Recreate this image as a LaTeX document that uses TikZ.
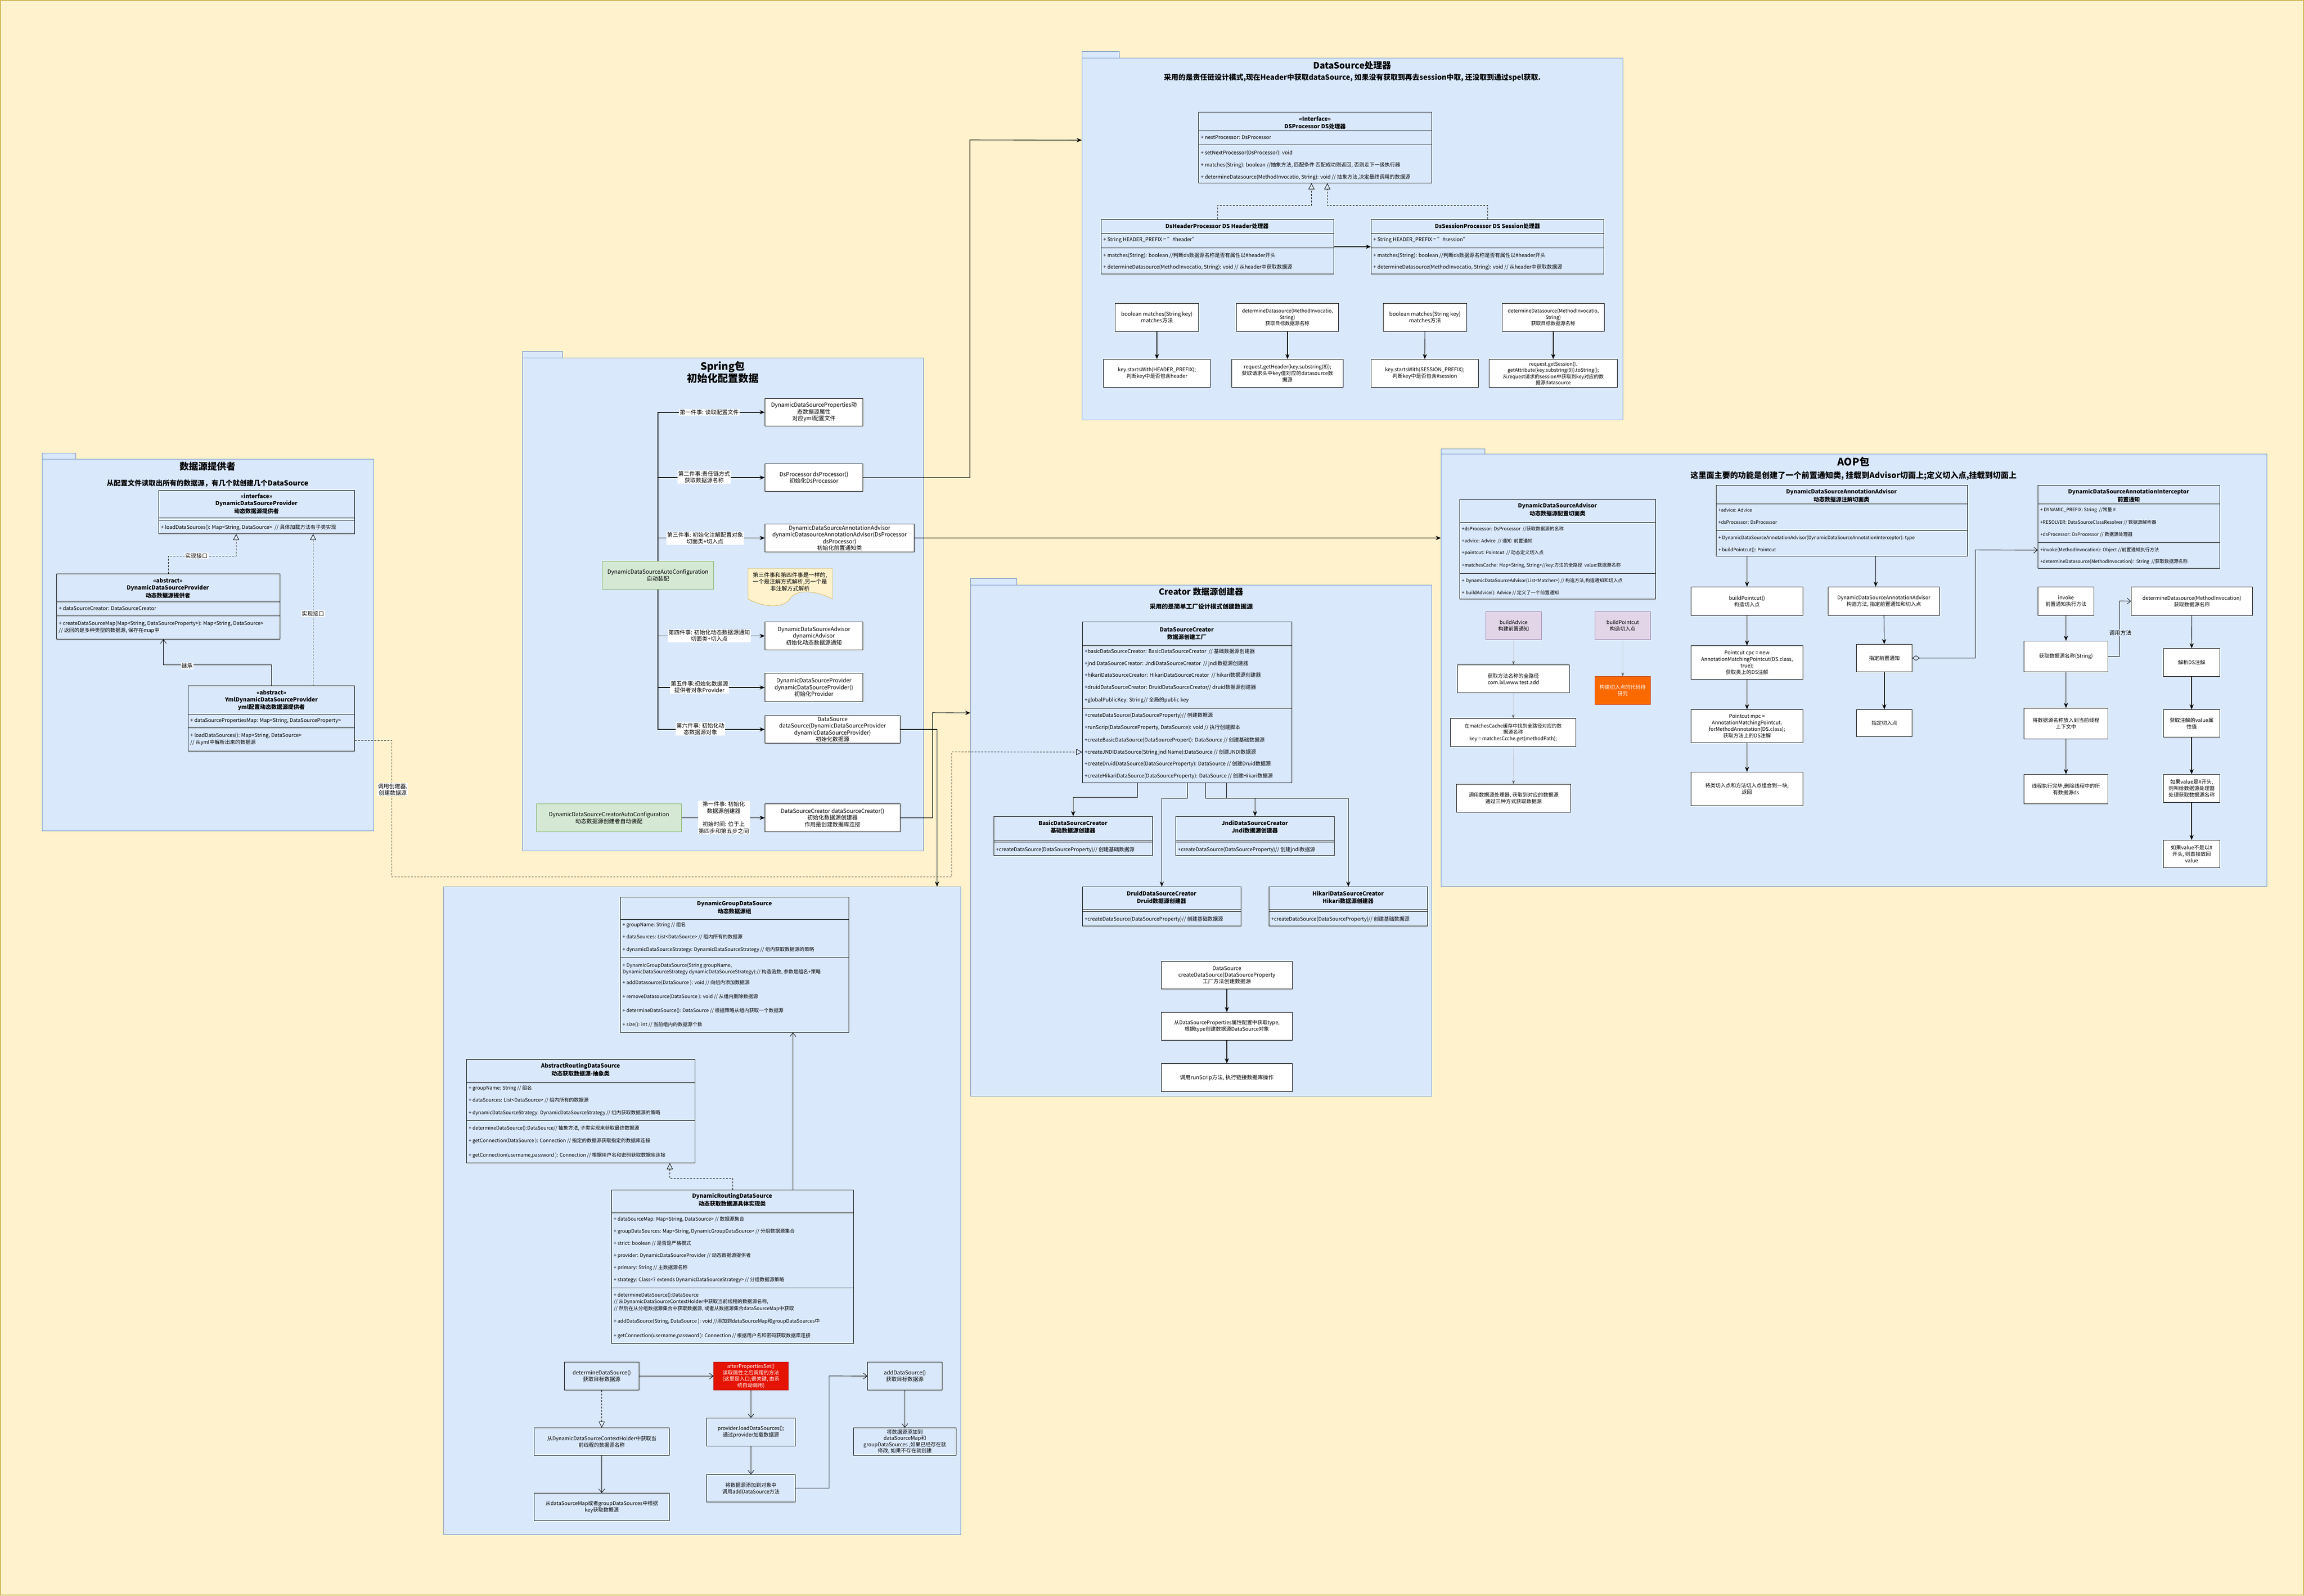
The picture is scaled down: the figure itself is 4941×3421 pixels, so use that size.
\documentclass[tikz,border=0pt]{standalone}
\usepackage{fontspec}
\setmainfont{Noto Sans CJK SC}
\usetikzlibrary{arrows.meta}
\definecolor{bgy}{HTML}{FFF2CC}
\definecolor{bgyl}{HTML}{D6B656}
\definecolor{pkf}{HTML}{DAE8FC}
\definecolor{pkl}{HTML}{6C8EBF}
\definecolor{grf}{HTML}{D5E8D4}
\definecolor{grl}{HTML}{82B366}
\definecolor{puf}{HTML}{E1D5E7}
\definecolor{pul}{HTML}{9673A6}
\definecolor{orf}{HTML}{FA6800}
\definecolor{orl}{HTML}{C73500}
\definecolor{rdf}{HTML}{E51400}
\definecolor{rdl}{HTML}{B20000}
\newcounter{tn}
\newcommand\fs[2]{\fontsize{#1}{#2}\selectfont}
\newcommand\bx[7]{\node[#2,anchor=north west,minimum width={#5-#3},minimum height={#6-#4},inner sep=1pt] (#1) at (#3,#4) {#7};}
\newcommand\txt[4][]{\stepcounter{tn}\node[attr,#1] (t\arabic{tn}) at (#2,#3) {#4};}
\newcommand\ttl[4][]{\stepcounter{tn}\node[ctitle,#1] (t\arabic{tn}) at (#2,#3) {#4};}
\newcommand\dvd[3]{\draw[cls] (#1,#3) -- (#2,#3);}
\tikzset{
 pkg/.style={draw=pkl,fill=pkf,line width=1pt},
 cls/.style={draw=black,line width=0.9pt},
 wbox/.style={draw=black,fill=white,line width=0.9pt,align=center,font=\fs{11.5}{14}},
 tbox/.style={draw=black,line width=0.9pt,align=center,font=\fs{11.5}{14}},
 gbox/.style={draw=grl,fill=grf,line width=0.9pt,align=center,font=\fs{12}{14.5}},
 pbox/.style={draw=pul,fill=puf,line width=0.9pt,align=center,font=\fs{11}{13.5}},
 obox/.style={draw=orl,fill=orf,text=white,line width=0.9pt,align=center,font=\fs{11}{13.5}},
 rbox/.style={draw=rdl,fill=rdf,text=white,line width=0.9pt,align=center,font=\fs{11}{13.5}},
 attr/.style={font=\fs{11}{13},inner sep=0pt,anchor=west},
 ctitle/.style={font=\bfseries\fs{12}{14},inner sep=0pt},
 lbl/.style={fill=white,inner sep=1.5pt,align=center,font=\fs{12}{14.5}},
 arr/.style={line width=1.1pt,-{Stealth[length=11pt,width=9pt]}},
 oarr/.style={line width=0.9pt,-{Straight Barb[length=8pt,width=13pt]}},
 impl/.style={line width=0.9pt,dash pattern=on 4pt off 3pt,-{Triangle[open,length=13pt,width=13pt]}},
 garr/.style={draw=gray!45,line width=0.8pt,-{Stealth[length=8pt,width=6pt,color=gray!70!black]}},
 agg/.style={line width=0.9pt,{Diamond[open,length=16pt,width=11pt]}-{Straight Barb[length=8pt,width=13pt]}},
}
\begin{document}
\begin{tikzpicture}[x=1pt,y=-1pt]
\useasboundingbox (0,0) rectangle (4941,3421);
\fill[bgy] (0,0) rectangle (4941,3421);
\draw[bgyl,line width=1.5pt] (1,1) rectangle (4940,3420);

%% ================= DataSource processor package
\bx{pdsT}{pkg}{2320}{110}{2400}{124}{}
\bx{pds}{pkg}{2320}{124}{3480}{900}{}
\node[font=\bfseries\fs{19}{22}] (pdsTi) at (2900,140) {DataSource处理器};
\node[font=\bfseries\fs{15.5}{18}] (pdsSu) at (2900,167) {采用的是责任链设计模式,现在Header中获取dataSource, 如果没有获取到再去session中取, 还没取到通过spel获取.};

\bx{dsp}{tbox}{2570}{240}{3070}{392}{}
\ttl{2820}{255}{<<Interface>>}
\ttl{2820}{271}{DSProcessor DS处理器}
\dvd{2570}{3070}{280}\dvd{2570}{3070}{310}
\txt{2575}{295}{+ nextProcessor: DsProcessor}
\txt{2575}{328}{+ setNextProcessor(DsProcessor): void}
\txt{2575}{354}{+ matches(String): boolean //抽象方法, 匹配条件 匹配成功则返回, 否则走下一级执行器}
\txt{2575}{380}{+ determineDatasource(MethodInvocatio, String): void // 抽象方法,决定最终调用的数据源}

\bx{dsh}{tbox}{2361}{470}{2860}{587}{}
\ttl{2610}{485}{DsHeaderProcessor DS Header处理器}
\dvd{2361}{2860}{500}\dvd{2361}{2860}{531}
\txt{2366}{514}{+ String HEADER\_PREFIX = "\#header"}
\txt{2366}{548}{+ matches(String): boolean //判断ds数据源名称是否有属性以\#header开头}
\txt{2366}{573}{+ determineDatasource(MethodInvocatio, String): void // 从header中获取数据源}

\bx{dss}{tbox}{2940}{470}{3439}{587}{}
\ttl{3190}{485}{DsSessionProcessor DS Session处理器}
\dvd{2940}{3439}{500}\dvd{2940}{3439}{531}
\txt{2945}{514}{+ String HEADER\_PREFIX = "\#session"}
\txt{2945}{548}{+ matches(String): boolean //判断ds数据源名称是否有属性以\#header开头}
\txt{2945}{573}{+ determineDatasource(MethodInvocatio, String): void // 从header中获取数据源}

\draw[impl] (dsh.north) -- ++(0,-30) -| ([xshift=-8pt]dsp.south);
\draw[impl] (dss.north) -- ++(0,-30) -| ([xshift=26pt]dsp.south);
\draw[arr] (dsh.east) -- (dss.west);

\bx{fA}{wbox}{2391}{650}{2570}{710}{boolean matches(String key)\\matches方法}
\bx{fB}{wbox,font=\fs{10.5}{13.5}}{2651}{650}{2870}{710}{determineDatasource(MethodInvocatio,\\String)\\获取目标数据源名称}
\bx{fC}{wbox}{2966}{650}{3145}{710}{boolean matches(String key)\\matches方法}
\bx{fD}{wbox,font=\fs{10.5}{13.5}}{3221}{650}{3440}{710}{determineDatasource(MethodInvocatio,\\String)\\获取目标数据源名称}
\bx{gA}{wbox,font=\fs{11}{14}}{2366}{770}{2595}{830}{key.startsWith(HEADER\_PREFIX);\\判断key中是否包含header}
\bx{gB}{wbox,font=\fs{11}{14}}{2641}{770}{2880}{830}{request.getHeader(key.substring(8));\\获取请求头中key值对应的datasource数\\据源}
\bx{gC}{wbox,font=\fs{11}{14}}{2940}{770}{3170}{830}{key.startsWith(SESSION\_PREFIX);\\判断key中是否包含\#session}
\bx{gD}{wbox,font=\fs{10.5}{13.5}}{3193}{770}{3468}{830}{request.getSession().\\getAttribute(key.substring(9)).toString();\\从request请求的session中获取到key对应的数\\据源datasource}
\draw[arr] (fA) -- (gA);
\draw[arr] (fB) -- (gB);
\draw[arr] (fC) -- (gC);
\draw[arr] (fD) -- (gD);

%% ================= Provider package
\bx{ppvT}{pkg}{90}{971}{162}{984}{}
\bx{ppv}{pkg}{90}{984}{801}{1781}{}
\node[font=\bfseries\fs{20}{24}] (ppvTi) at (445,1000) {数据源提供者};
\node[font=\bfseries\fs{15}{18}] (ppvSu) at (445,1036) {从配置文件读取出所有的数据源，有几个就创建几个DataSource};

\bx{pif}{tbox}{340}{1051}{760}{1144}{}
\ttl{550}{1064}{<<interface>>}
\ttl{550}{1080}{DynamicDataSourceProvider}
\ttl{550}{1096}{动态数据源提供者}
\dvd{340}{760}{1110}\dvd{340}{760}{1115}
\txt{345}{1131}{+ loadDataSources(): Map<String, DataSource>~ // 具体加载方法有子类实现}

\bx{pab}{tbox}{121}{1230}{600}{1370}{}
\ttl{360}{1245}{<<abstract>>}
\ttl{360}{1261}{DynamicDataSourceProvider}
\ttl{360}{1277}{动态数据源提供者}
\dvd{121}{600}{1290}\dvd{121}{600}{1320}
\txt{126}{1304}{+ dataSourceCreator: DataSourceCreator}
\txt{126}{1337}{+ createDataSourceMap(Map<String, DataSourceProperty>): Map<String, DataSource>}
\txt{126}{1352}{// 返回的是多种类型的数据源, 保存在map中}

\bx{pym}{tbox}{403}{1470}{760}{1610}{}
\ttl{582}{1485}{<<abstract>>}
\ttl{582}{1501}{YmlDynamicDataSourceProvider}
\ttl{582}{1517}{yml配置动态数据源提供者}
\dvd{403}{760}{1531}\dvd{403}{760}{1560}
\txt{408}{1545}{+ dataSourcePropertiesMap: Map<String, DataSourceProperty>}
\txt{408}{1577}{+ loadDataSources(): Map<String, DataSource>}
\txt{408}{1592}{// 从yml中解析出来的数据源}

\draw[impl] (pab.north) -- ++(0,-38) -| ([xshift=-44pt]pif.south);
\node[lbl] (lpi1) at (421,1192) {实现接口};
\draw[impl] ([xshift=89.5pt]pym.north) -- ([xshift=121pt]pif.south);
\node[lbl] (lpi2) at (671,1316) {实现接口};
\draw[oarr] (pym.north) -- ++(0,-45) -| ([xshift=-10.5pt]pab.south);
\node[lbl] (lpi3) at (401,1428) {继承};

%% ================= Spring package
\bx{pspT}{pkg}{1120}{753}{1206}{767}{}
\bx{psp}{pkg}{1120}{767}{1980}{1824}{}
\node[font=\bfseries\fs{22}{26},align=center] (pspTi) at (1550,798) {Spring包\\初始化配置数据};

\bx{sac}{gbox}{1291}{1203}{1530}{1263}{DynamicDataSourceAutoConfiguration\\自动装配}
\bx{s1}{wbox,font=\fs{12}{14.5}}{1640}{854}{1850}{913}{DynamicDataSourceProperties动\\态数据源属性\\对应yml配置文件}
\bx{s2}{wbox,font=\fs{12}{14.5}}{1640}{994}{1850}{1053}{DsProcessor dsProcessor()\\初始化DsProcessor}
\bx{s3}{wbox,font=\fs{12}{14.5}}{1640}{1123}{1960}{1183}{DynamicDataSourceAnnotationAdvisor\\dynamicDatasourceAnnotationAdvisor(DsProcessor\\dsProcessor)\\初始化前置通知类}
\bx{s4}{wbox,font=\fs{12}{14.5}}{1640}{1333}{1850}{1393}{DynamicDataSourceAdvisor\\dynamicAdvisor\\初始化动态数据源通知}
\bx{s5}{wbox,font=\fs{12}{14.5}}{1640}{1443}{1850}{1504}{DynamicDataSourceProvider\\dynamicDataSourceProvider()\\初始化Provider}
\bx{s6}{wbox,font=\fs{12}{14.5}}{1640}{1534}{1930}{1593}{DataSource\\dataSource(DynamicDataSourceProvider\\dynamicDataSourceProvider)\\初始化数据源}
\bx{gca}{gbox}{1150}{1723}{1461}{1783}{DynamicDataSourceCreatorAutoConfiguration\\动态数据源创建者自动装配}
\bx{s7}{wbox,font=\fs{12}{14.5}}{1640}{1723}{1930}{1783}{DataSourceCreator dataSourceCreator()\\初始化数据源创建器\\作用是创建数据库连接}

\draw[fill=bgy,draw=bgyl,line width=0.9pt] (1604,1219) -- (1785,1219) -- (1785,1284) .. controls (1745,1264) and (1705,1264) .. (1694,1284) .. controls (1680,1304) and (1640,1304) .. (1604,1284) -- cycle;
\node[font=\fs{12}{14.5},align=center] (note) at (1694,1247) {第三件事和第四件事是一样的,\\一个是注解方式解析,另一个是\\非注解方式解析};

\draw[arr] (sac.north) |- (s1.west);
\draw[arr] (sac.north) |- (s2.west);
\draw[arr] (sac.north) |- (s3.west);
\draw[arr] (sac.south) |- (s4.west);
\draw[arr] (sac.south) |- (s5.west);
\draw[arr] (sac.south) |- (s6.west);
\draw[arr] (gca.east) -- (s7.west);
\node[lbl] (l1) at (1521,884) {第一件事: 读取配置文件};
\node[lbl] (l2) at (1510,1023) {第二件事:责任链方式\\获取数据源名称};
\node[lbl] (l3) at (1512,1154) {第三件事: 初始化注解配置对象\\切面类+切入点};
\node[lbl] (l4) at (1521,1363) {第四件事: 初始化动态数据源通知\\切面类+切入点};
\node[lbl] (l5) at (1500,1473) {第五件事:初始化数据源\\提供者对象Provider};
\node[lbl] (l6) at (1502,1563) {第六件事: 初始化动\\态数据源对象};
\node[lbl] (l7) at (1552,1753) {第一件事: 初始化\\数据源创建器\\[14pt]初始时间: 位于上\\第四步和第五步之间};

%% ================= Creator package
\bx{creT}{pkg}{2081}{1240}{2180}{1254}{}
\bx{cre}{pkg}{2081}{1254}{3070}{2350}{}
\node[font=\bfseries\fs{18}{22}] (creTi) at (2576,1269) {Creator 数据源创建器};
\node[font=\bfseries\fs{13}{16}] (creSu) at (2576,1301) {采用的是简单工厂设计模式创建数据源};

\bx{dsc}{tbox}{2321}{1333}{2770}{1678}{}
\ttl{2545}{1350}{DataSourceCreator}
\ttl{2545}{1366}{数据源创建工厂}
\dvd{2321}{2770}{1384}\dvd{2321}{2770}{1518}
\txt{2326}{1397}{+basicDataSourceCreator: BasicDataSourceCreator~ // 基础数据源创建器}
\txt{2326}{1423}{+jndiDataSourceCreator: JndiDataSourceCreator~ // jndi数据源创建器}
\txt{2326}{1448}{+hikariDataSourceCreator: HikariDataSourceCreator~ // hikari数据源创建器}
\txt{2326}{1474}{+druidDataSourceCreator: DruidDataSourceCreator// druid数据源创建器}
\txt{2326}{1501}{+globalPublicKey: String// 全局的public key}
\txt{2326}{1534}{+createDataSource(DataSourceProperty)// 创建数据源}
\txt{2326}{1560}{+runScrip(DataSourceProperty, DataSource): void // 执行创建脚本}
\txt{2326}{1587}{+createBasicDataSource(DataSourcePropert): DataSource // 创建基础数据源}
\txt{2326}{1613}{+createJNDIDataSource(String jndiName):DataSource // 创建JNDI数据源}
\txt{2326}{1638}{+createDruidDataSource(DataSourceProperty): DataSource // 创建Druid数据源}
\txt{2326}{1664}{+createHikariDataSource(DataSourceProperty): DataSource // 创建Hikari数据源}

\bx{cb}{tbox}{2131}{1750}{2471}{1834}{}
\ttl{2301}{1765}{BasicDataSourceCreator}
\ttl{2301}{1781}{基础数据源创建器}
\dvd{2131}{2471}{1801}\dvd{2131}{2471}{1805}
\txt{2136}{1822}{+createDataSource(DataSourceProperty)// 创建基础数据源}

\bx{cj}{tbox}{2521}{1750}{2861}{1834}{}
\ttl{2691}{1765}{JndiDataSourceCreator}
\ttl{2691}{1781}{Jndi数据源创建器}
\dvd{2521}{2861}{1801}\dvd{2521}{2861}{1805}
\txt{2526}{1822}{+createDataSource(DataSourceProperty)// 创建jndi数据源}

\bx{cd}{tbox}{2321}{1901}{2661}{1985}{}
\ttl{2491}{1916}{DruidDataSourceCreator}
\ttl{2491}{1932}{Druid数据源创建器}
\dvd{2321}{2661}{1950}\dvd{2321}{2661}{1954}
\txt{2326}{1971}{+createDataSource(DataSourceProperty)// 创建基础数据源}

\bx{ch}{tbox}{2721}{1901}{3061}{1985}{}
\ttl{2891}{1916}{HikariDataSourceCreator}
\ttl{2891}{1932}{Hikari数据源创建器}
\dvd{2721}{3061}{1950}\dvd{2721}{3061}{1954}
\txt{2726}{1971}{+createDataSource(DataSourceProperty)// 创建基础数据源}

\draw[arr] ([xshift=-106.5pt]dsc.south) -- ++(0,31) -| (cb.north);
\draw[arr] ([xshift=0.5pt]dsc.south) -- ++(0,33) -| (cd.north);
\draw[arr] ([xshift=39.5pt]dsc.south) -- ++(0,33) -| (ch.north);
\draw[arr] ([xshift=84.5pt]dsc.south) -- ++(0,33) -| (cj.north);

\bx{cf1}{wbox,font=\fs{11.5}{14}}{2490}{2061}{2771}{2120}{DataSource\\createDataSource(DataSourceProperty\\工厂方法创建数据源}
\bx{cf2}{wbox,font=\fs{11}{14}}{2490}{2170}{2771}{2230}{从DataSourceProperties属性配置中获取type,\\根据type创建数据源DataSource对象}
\bx{cf3}{wbox,font=\fs{11.5}{14}}{2490}{2280}{2771}{2340}{调用runScrip方法, 执行链接数据库操作}
\draw[arr] (cf1) -- (cf2);
\draw[arr] (cf2) -- (cf3);

%% ================= AOP package
\bx{aopT}{pkg}{3090}{962}{3184}{973}{}
\bx{aop}{pkg}{3090}{973}{4861}{1900}{}
\node[font=\bfseries\fs{22}{26}] (aopTi) at (3975,990) {AOP包};
\node[font=\bfseries\fs{17}{20}] (aopSu) at (3975,1020) {这里面主要的功能是创建了一个前置通知类, 挂载到Advisor切面上;定义切入点,挂载到切面上};

\bx{aadv}{tbox}{3130}{1070}{3550}{1284}{}
\ttl{3340}{1085}{DynamicDataSourceAdvisor}
\ttl{3340}{1101}{动态数据源配置切面类}
\dvd{3130}{3550}{1120}\dvd{3130}{3550}{1229}
\txt[font=\fs{10}{12}]{3135}{1134}{+dsProcessor: DsProcessor~ //获取数据源的名称}
\txt[font=\fs{10}{12}]{3135}{1160}{+advice: Advice~ // 通知~ 前置通知}
\txt[font=\fs{10}{12}]{3135}{1185}{+pointcut: Pointcut~ // 动态定义切入点}
\txt[font=\fs{10}{12}]{3135}{1212}{+matchesCache: Map<String, String>//key:方法的全路径~ value:数据源名称}
\txt[font=\fs{10}{12}]{3135}{1245}{+ DynamicDataSourceAdvisor(List<Matcher>) // 构造方法,构造通知和切入点}
\txt[font=\fs{10}{12}]{3135}{1271}{+ buildAdvice(): Advice // 定义了一个前置通知}

\bx{aann}{tbox}{3680}{1040}{4219}{1192}{}
\ttl{3949}{1055}{DynamicDataSourceAnnotationAdvisor}
\ttl{3949}{1071}{动态数据源注解切面类}
\dvd{3680}{4219}{1080}\dvd{3680}{4219}{1137}
\txt[font=\fs{10}{12}]{3685}{1094}{+advice: Advice}
\txt[font=\fs{10}{12}]{3685}{1120}{+dsProcessor: DsProcessor}
\txt[font=\fs{10}{12}]{3685}{1154}{+ DynamicDataSourceAnnotationAdvisor(DynamicDataSourceAnnotationInterceptor): type}
\txt[font=\fs{10}{12}]{3685}{1179}{+ buildPointcut(): Pointcut}

\bx{aint}{tbox}{4370}{1040}{4760}{1218}{}
\ttl{4565}{1055}{DynamicDataSourceAnnotationInterceptor}
\ttl{4565}{1071}{前置通知}
\dvd{4370}{4760}{1080}\dvd{4370}{4760}{1163}
\txt[font=\fs{10}{12}]{4375}{1094}{+ DYNAMIC\_PREFIX: String~ //常量 \#}
\txt[font=\fs{10}{12}]{4375}{1120}{+RESOLVER: DataSourceClassResolver // 数据源解析器}
\txt[font=\fs{10}{12}]{4375}{1146}{+dsProcessor: DsProcessor // 数据源处理器}
\txt[font=\fs{10}{12}]{4375}{1179}{+invoke(MethodInvocation): Object //前置通知执行方法}
\txt[font=\fs{10}{12}]{4375}{1205}{+determineDatasource(MethodInvocation):~ String~ //获取数据源名称}

\bx{pa}{pbox}{3186}{1311}{3305}{1371}{buildAdvice\\构建前置通知}
\bx{pp}{pbox}{3420}{1311}{3539}{1371}{buildPointcut\\构造切入点}
\bx{la1}{wbox,font=\fs{11}{14}}{3125}{1425}{3365}{1485}{获取方法名称的全路径\\com.lxl.www.test.add}
\bx{po}{obox}{3420}{1450}{3539}{1510}{构建切入点的代码待\\研究}
\bx{la2}{wbox,font=\fs{10.5}{13.5}}{3110}{1540}{3379}{1600}{在matchesCache缓存中找到全路径对应的数\\据源名称\\key = matchesCcche.get(methodPath);}
\bx{la3}{wbox,font=\fs{11}{14}}{3123}{1681}{3368}{1741}{调用数据源处理器, 获取到对应的数据源\\通过三种方式获取数据源}
\draw[garr] (pa) -- (la1);
\draw[garr] (la1) -- (la2);
\draw[garr] (la2) -- (la3);
\draw[garr] (pp) -- (po);

\bx{m1}{wbox,font=\fs{11}{14}}{3626}{1258}{3866}{1319}{buildPointcut()\\构造切入点}
\bx{m2}{wbox,font=\fs{11}{14}}{3626}{1384}{3866}{1456}{Pointcut cpc = new\\AnnotationMatchingPointcut(DS.class,\\true);\\获取类上的DS注解}
\bx{m3}{wbox,font=\fs{11}{14}}{3626}{1521}{3866}{1592}{Pointcut mpc =\\AnnotationMatchingPointcut.\\forMethodAnnotation(DS.class);\\获取方法上的DS注解}
\bx{m4}{wbox,font=\fs{11}{14}}{3626}{1655}{3866}{1727}{将类切入点和方法切入点组合到一块,\\返回}
\draw[arr] ([xshift=-203.5pt]aann.south) -- (m1.north);
\draw[arr] (m1) -- (m2);
\draw[arr] (m2) -- (m3);
\draw[arr] (m3) -- (m4);

\bx{n1}{wbox,font=\fs{11}{14}}{3920}{1258}{4159}{1319}{DynamicDataSourceAnnotationAdvisor\\构造方法, 指定前置通知和切入点}
\bx{n2}{wbox,font=\fs{11}{14}}{3981}{1381}{4100}{1440}{指定前置通知}
\bx{n3}{wbox,font=\fs{11}{14}}{3981}{1521}{4100}{1579}{指定切入点}
\draw[arr] ([xshift=72.5pt]aann.south) -- ([xshift=-17.5pt]n1.north);
\draw[arr] (n1) -- (n2);
\draw[arr] (n2) -- (n3);
\draw[agg] (n2.east) -| (4236,1179) -- ([yshift=-50pt]aint.west);

\bx{r1}{wbox,font=\fs{11}{14}}{4370}{1258}{4490}{1319}{invoke\\前置通知执行方法}
\bx{r2}{wbox,font=\fs{11}{14}}{4340}{1374}{4520}{1440}{获取数据源名称(String)}
\bx{r3}{wbox,font=\fs{11}{14}}{4340}{1518}{4520}{1584}{将数据源名称放入到当前线程\\上下文中}
\bx{r4}{wbox,font=\fs{11}{14}}{4340}{1660}{4520}{1723}{线程执行完毕,删除线程中的所\\有数据源ds}
\draw[arr] (r1) -- (r2);
\draw[arr] (r2) -- (r3);
\draw[arr] (r3) -- (r4);
\bx{q1}{wbox,font=\fs{11}{14}}{4570}{1258}{4830}{1319}{determineDatasource(MethodInvocation)\\获取数据源名称}
\bx{q2}{wbox,font=\fs{11}{14}}{4639}{1390}{4760}{1450}{解析DS注解}
\bx{q3}{wbox,font=\fs{11}{14}}{4639}{1521}{4760}{1580}{获取注解的value属\\性值}
\bx{q4}{wbox,font=\fs{11}{14}}{4639}{1660}{4760}{1720}{如果value是\#开头,\\则叫给数据源处理器\\处理获取数据源名称}
\bx{q5}{wbox,font=\fs{11}{14}}{4639}{1801}{4760}{1860}{如果value不是以\#\\开头, 则直接放回\\value}
\draw[arr] (q1) -- (q2);
\draw[arr] (q2) -- (q3);
\draw[arr] (q3) -- (q4);
\draw[arr] (q4) -- (q5);
\draw[oarr] (r2.east) -| (4545,1288.5) -- (q1.west);
\node[lbl,fill=pkf] (lcall) at (4547,1357) {调用方法};

%% ================= Bottom package (routing)
\bx{bot}{pkg}{951}{1901}{2060}{3290}{}

\bx{grp}{tbox}{1330}{1923}{1820}{2213}{}
\ttl{1575}{1938}{DynamicGroupDataSource}
\ttl{1575}{1954}{动态数据源组}
\dvd{1330}{1820}{1971}\dvd{1330}{1820}{2052}
\txt[font=\fs{10.5}{12}]{1335}{1983}{+ groupName: String // 组名}
\txt[font=\fs{10.5}{12}]{1335}{2009}{+ dataSources: List<DataSource> // 组内所有的数据源}
\txt[font=\fs{10.5}{12}]{1335}{2036}{+ dynamicDataSourceStrategy: DynamicDataSourceStrategy // 组内获取数据源的策略}
\txt[font=\fs{10.5}{12}]{1335}{2070}{+ DynamicGroupDataSource(String groupName,}
\txt[font=\fs{10.5}{12}]{1335}{2084}{DynamicDataSourceStrategy dynamicDataSourceStrategy):// 构造函数, 参数是组名+策略}
\txt[font=\fs{10.5}{12}]{1335}{2107}{+ addDatasource(DataSource ): void // 向组内添加数据源}
\txt[font=\fs{10.5}{12}]{1335}{2137}{+ removeDatasource(DataSource ): void // 从组内删除数据源}
\txt[font=\fs{10.5}{12}]{1335}{2167}{+ determineDataSource(): DataSource // 根据策略从组内获取一个数据源}
\txt[font=\fs{10.5}{12}]{1335}{2197}{+ size(): int // 当前组内的数据源个数}

\bx{ars}{tbox}{1000}{2271}{1490}{2493}{}
\ttl{1245}{2286}{AbstractRoutingDataSource}
\ttl{1245}{2302}{动态获取数据源-抽象类}
\dvd{1000}{1490}{2321}\dvd{1000}{1490}{2402}
\txt[font=\fs{10.5}{12}]{1005}{2333}{+ groupName: String // 组名}
\txt[font=\fs{10.5}{12}]{1005}{2359}{+ dataSources: List<DataSource> // 组内所有的数据源}
\txt[font=\fs{10.5}{12}]{1005}{2386}{+ dynamicDataSourceStrategy: DynamicDataSourceStrategy // 组内获取数据源的策略}
\txt[font=\fs{10.5}{12}]{1005}{2419}{+ determineDataSource():DataSource// 抽象方法, 子类实现来获取最终数据源}
\txt[font=\fs{10.5}{12}]{1005}{2446}{+ getConnection(DataSource ): Connection // 指定的数据源获取指定的数据库连接}
\txt[font=\fs{10.5}{12}]{1005}{2477}{+ getConnection(username,password ): Connection // 根据用户名和密码获取数据库连接}

\bx{drs}{tbox}{1311}{2551}{1830}{2880}{}
\ttl{1570}{2565}{DynamicRoutingDataSource}
\ttl{1570}{2581}{动态获取数据源具体实现类}
\dvd{1311}{1830}{2600}\dvd{1311}{1830}{2761}
\txt[font=\fs{10.5}{12}]{1316}{2614}{+ dataSourceMap: Map<String, DataSource> // 数据源集合}
\txt[font=\fs{10.5}{12}]{1316}{2640}{+ groupDataSources: Map<String, DynamicGroupDataSource> // 分组数据源集合}
\txt[font=\fs{10.5}{12}]{1316}{2666}{+ strict: boolean // 是否是严格模式}
\txt[font=\fs{10.5}{12}]{1316}{2692}{+ provider: DynamicDataSourceProvider // 动态数据源提供者}
\txt[font=\fs{10.5}{12}]{1316}{2718}{+ primary: String // 主数据源名称}
\txt[font=\fs{10.5}{12}]{1316}{2744}{+ strategy: Class<? extends DynamicDataSourceStrategy> // 分组数据源策略}
\txt[font=\fs{10.5}{12}]{1316}{2777}{+ determineDataSource():DataSource}
\txt[font=\fs{10.5}{12}]{1316}{2791}{// 从DynamicDataSourceContextHolder中获取当前线程的数据源名称,}
\txt[font=\fs{10.5}{12}]{1316}{2806}{// 然后在从分组数据源集合中获取数据源, 或者从数据源集合dataSourceMap中获取}
\txt[font=\fs{10.5}{12}]{1316}{2833}{+ addDataSource(String, DataSource ): void //添加到dataSourceMap和groupDataSources中}
\txt[font=\fs{10.5}{12}]{1316}{2864}{+ getConnection(username,password ): Connection // 根据用户名和密码获取数据库连接}

\draw[impl] (drs.north) -- ++(0,-25) -| ([xshift=191pt]ars.south);
\draw[oarr] ([xshift=129.5pt]drs.north) -- ([xshift=125pt]grp.south);

\bx{b1}{tbox,font=\fs{11.5}{14}}{1210}{2920}{1370}{2980}{determineDataSource()\\获取目标数据源}
\bx{b2}{rbox}{1530}{2920}{1690}{2980}{afterPropertiesSet()\\读取属性之后调用的方法\\(这里是入口,很关键, 由系\\统自动调用)}
\bx{b3}{tbox,font=\fs{11.5}{14}}{1860}{2920}{2020}{2980}{addDataSource()\\获取目标数据源}
\bx{b4}{tbox,font=\fs{11}{14}}{1145}{3061}{1435}{3120}{从DynamicDataSourceContextHolder中获取当\\前线程的数据源名称}
\bx{b5}{tbox,font=\fs{11}{14}}{1515}{3040}{1705}{3100}{provider.loadDataSources();\\通过provider加载数据源}
\bx{b6}{tbox,font=\fs{11}{13.5}}{1830}{3061}{2050}{3120}{将数据源添加到\\dataSourceMap和\\groupDataSources ,如果已经存在就\\修改, 如果不存在就创建}
\bx{b7}{tbox,font=\fs{11}{14}}{1145}{3201}{1435}{3260}{从dataSourceMap或者groupDataSources中根据\\key获取数据源}
\bx{b8}{tbox,font=\fs{11}{14}}{1515}{3161}{1705}{3220}{将数据源添加到对象中\\调用addDataSource方法}
\draw[oarr] (b1) -- (b2);
\draw[impl] (b1) -- (b4);
\draw[oarr] (b4) -- (b7);
\draw[oarr] (b2) -- (b5);
\draw[oarr] (b5) -- (b8);
\draw[oarr] (b8.east) -| (1778,2950) -- (b3.west);
\draw[oarr] (b3) -- (b6);

%% ================= inter-package connectors
\draw[arr] (s2.east) -| (2080,300) -- ([yshift=212pt]pds.west);
\draw[arr] (s3.east) -- ([yshift=283.5pt]aop.west);
\draw[arr] (s6.east) -| ([xshift=503.5pt]bot.north);
\draw[arr] (s7.east) -| (2000,1528) -- ([yshift=274pt]cre.west);
\draw[impl] ([yshift=-47pt]pym.east) -| (840,1880) -| (2041,1612) -- ([yshift=-106.5pt]dsc.west);
\node[lbl] (lcr) at (842,1693) {调用创建器,\\创建数据源};
\end{tikzpicture}
\end{document}
